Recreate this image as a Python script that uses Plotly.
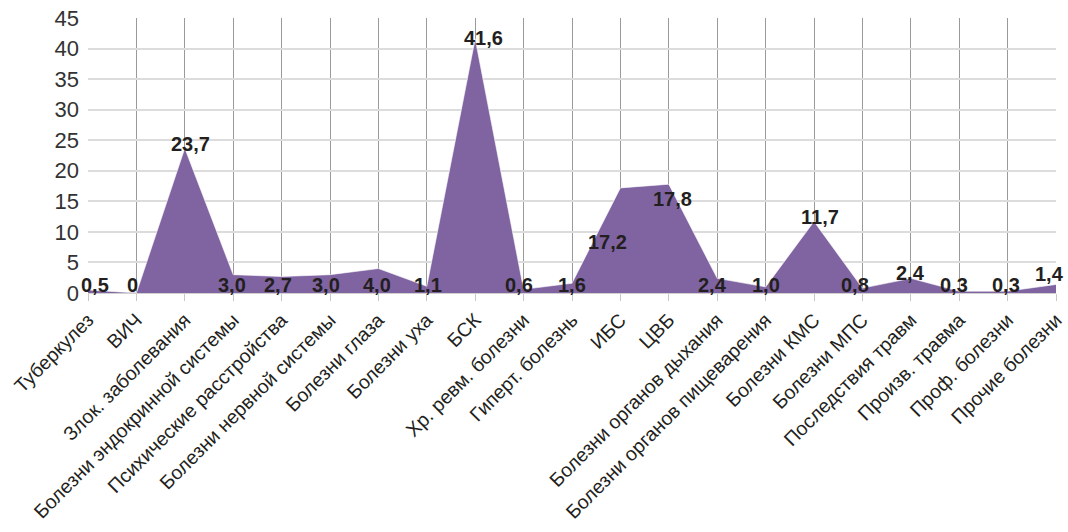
import plotly.graph_objects as go

categories = [
    "Туберкулез", "ВИЧ", "Злок. заболевания", "Болезни эндокринной системы",
    "Психические расстройства", "Болезни нервной системы", "Болезни глаза",
    "Болезни уха", "БСК", "Хр. ревм. болезни", "Гиперт. болезнь", "ИБС", "ЦВБ",
    "Болезни органов дыхания", "Болезни органов пищеварения", "Болезни КМС",
    "Болезни МПС", "Последствия травм", "Произв. травма", "Проф. болезни",
    "Прочие болезни",
]
values = [0.5, 0, 23.7, 3.0, 2.7, 3.0, 4.0, 1.1, 41.6, 0.6, 1.6, 17.2, 17.8,
          2.4, 1.0, 11.7, 0.8, 2.4, 0.3, 0.3, 1.4]
value_labels = ["0,5", "0", "23,7", "3,0", "2,7", "3,0", "4,0", "1,1", "41,6",
                "0,6", "1,6", "17,2", "17,8", "2,4", "1,0", "11,7", "0,8", "2,4",
                "0,3", "0,3", "1,4"]
y_ticks = [0, 5, 10, 15, 20, 25, 30, 35, 40, 45]

# label placement style: "base" = along the baseline, "val" = at the value
label_mode = ["base", "base", "val", "base", "base", "base", "base", "base", "val",
              "base", "base", "val", "val", "base", "base", "val", "base", "val",
              "base", "base", "val"]
label_yshift = [8, 8, 4, 8, 8, 8, 8, 8, 1, 8, 8, -54, -15, 8, 8, 5, 8, 5, 8, 8, 10]
label_xshift = [7, -4, 6, -1, -4, -4, -1, 1, 8, -5, 0, -13, 4, -5, 0, 6, -7, 0, -5, -2, -7]

fig = go.Figure()
fig.add_trace(go.Scatter(
    x=categories, y=values, mode="lines", fill="tozeroy",
    fillcolor="#8064A2", line=dict(color="rgba(255,255,255,0.6)", width=1),
    hoverinfo="skip", showlegend=False,
))

for i, (c, v, t) in enumerate(zip(categories, values, value_labels)):
    fig.add_annotation(
        x=c, y=(v if label_mode[i] == "val" else 0), text=t, showarrow=False,
        xshift=label_xshift[i], yshift=label_yshift[i],
        font=dict(family="Liberation Sans, Arial, sans-serif", size=20,
                  color="#231F20", weight="bold"),
        xanchor="center", yanchor="middle",
    )

fig.update_layout(
    width=1068, height=532,
    margin=dict(l=88, r=12, t=18, b=239, autoexpand=False),
    paper_bgcolor="white", plot_bgcolor="white",
    xaxis=dict(
        type="category", range=[0, len(categories) - 1],
        showgrid=True, gridcolor="#9a9a9a", gridwidth=1,
        ticks="outside", ticklen=7, tickcolor="#c8c8c8",
        tickangle=-45, automargin=False,
        tickfont=dict(family="Liberation Sans, Arial, sans-serif", size=19.5, color="#231F20"),
        showline=False, zeroline=False,
    ),
    yaxis=dict(
        range=[0, 45], tickvals=y_ticks, automargin=False,
        showgrid=True, gridcolor="#dcdcdc", gridwidth=1.5,
        tickfont=dict(family="Liberation Sans Narrow, Arial Narrow, Liberation Sans, sans-serif",
                      size=22, color="#333333"),
        zeroline=True, zerolinecolor="#d0d0d0", zerolinewidth=1.5,
        ticks="", ticklabelstandoff=8,
    ),
)

fig.write_html("out.html")
